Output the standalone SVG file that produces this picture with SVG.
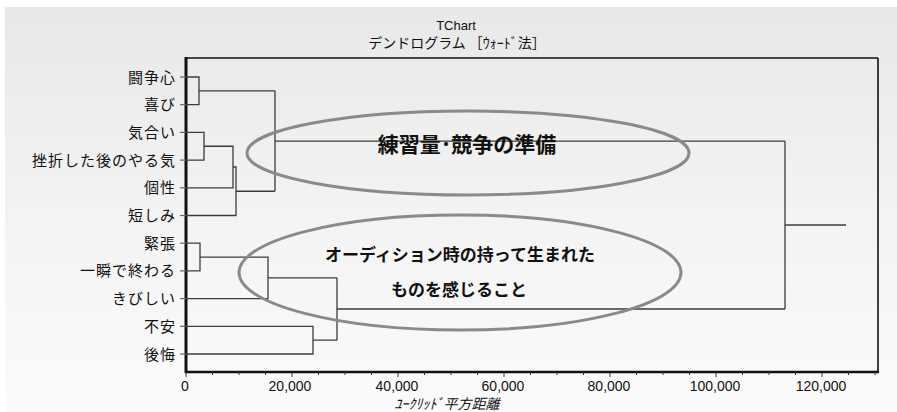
<svg xmlns="http://www.w3.org/2000/svg" width="897" height="412" viewBox="0 0 897 412">
<defs>
<linearGradient id="bg" x1="0" y1="0" x2="0" y2="1">
<stop offset="0" stop-color="#e8e8e8"/>
<stop offset="0.5" stop-color="#f3f3f3"/>
<stop offset="1" stop-color="#fbfbfb"/>
</linearGradient>
</defs>
<style>
.lbl{font-family:"Noto Sans CJK JP","Liberation Sans",sans-serif;font-size:15px;letter-spacing:1px;fill:#111;text-anchor:end}
.tick{font-family:"Liberation Sans",sans-serif;font-size:14px;fill:#111;text-anchor:middle}
.ttl{font-family:"Liberation Sans","Noto Sans CJK JP",sans-serif;font-size:13px;fill:#111;text-anchor:middle}
.big{font-family:"Noto Sans CJK JP",sans-serif;font-weight:bold;fill:#111;text-anchor:middle}
.dend{fill:none;stroke:#3c3c3c;stroke-width:1.3}
.lead{stroke:#666;stroke-width:1.2}
.ell{fill:none;stroke:#8a8a8a;stroke-width:3}
.frame{fill:none;stroke:#111}
</style>
<rect x="0" y="0" width="897" height="412" fill="#ffffff"/>
<rect x="5" y="7" width="892" height="405" fill="url(#bg)"/>
<g id="title">
<text class="ttl" x="456" y="30">TChart</text>
<text class="ttl" x="457" y="48" style="font-family:'Noto Sans CJK JP',sans-serif;font-size:14px">デンドログラム ［ｳｫｰﾄﾞ法］</text>
</g>
<g id="axes">
<line class="frame" x1="186" y1="58" x2="878" y2="58" stroke-width="1.6"/>
<line class="frame" x1="878" y1="58" x2="878" y2="372" stroke-width="1.6"/>
<line class="frame" x1="186" y1="57" x2="186" y2="373" stroke-width="3"/>
<line class="frame" x1="185" y1="372" x2="879" y2="372" stroke-width="2.4"/>
<path stroke="#333" stroke-width="1" d="M186 372v5M212.5 372v3M239 372v3M265.5 372v3M292 372v5M318.5 372v3M345 372v3M371.5 372v3M398 372v5M424.5 372v3M451 372v3M477.5 372v3M504 372v5M530.5 372v3M557 372v3M583.5 372v3M610 372v5M636.5 372v3M663 372v3M689.5 372v3M716 372v5M742.5 372v3M769 372v3M795.5 372v3M822 372v5M848.5 372v3M875 372v3"/>
<text class="tick" x="185" y="391">0</text>
<text class="tick" x="290" y="391">20,000</text>
<text class="tick" x="397" y="391">40,000</text>
<text class="tick" x="503" y="391">60,000</text>
<text class="tick" x="609" y="391">80,000</text>
<text class="tick" x="715" y="391">100,000</text>
<text class="tick" x="821" y="391">120,000</text>
<text class="ttl" x="447" y="409" style="font-family:'Noto Sans CJK JP',sans-serif;font-size:14px;font-style:italic">ﾕｰｸﾘｯﾄﾞ平方距離</text>
</g>
<g id="leaf-1"><line class="lead" x1="180" y1="77" x2="186" y2="77"/><text class="lbl" x="176" y="82.5">闘争心</text></g>
<g id="leaf-2"><line class="lead" x1="180" y1="104.7" x2="186" y2="104.7"/><text class="lbl" x="176" y="110.2">喜び</text></g>
<g id="leaf-3"><line class="lead" x1="180" y1="132.4" x2="186" y2="132.4"/><text class="lbl" x="176" y="137.9">気合い</text></g>
<g id="leaf-4"><line class="lead" x1="180" y1="160.1" x2="186" y2="160.1"/><text class="lbl" x="176" y="165.6">挫折した後のやる気</text></g>
<g id="leaf-5"><line class="lead" x1="180" y1="187.8" x2="186" y2="187.8"/><text class="lbl" x="176" y="193.3">個性</text></g>
<g id="leaf-6"><line class="lead" x1="180" y1="215.5" x2="186" y2="215.5"/><text class="lbl" x="176" y="221">短しみ</text></g>
<g id="leaf-7"><line class="lead" x1="180" y1="243.2" x2="186" y2="243.2"/><text class="lbl" x="176" y="248.7">緊張</text></g>
<g id="leaf-8"><line class="lead" x1="180" y1="270.9" x2="186" y2="270.9"/><text class="lbl" x="176" y="276.4">一瞬で終わる</text></g>
<g id="leaf-9"><line class="lead" x1="180" y1="298.6" x2="186" y2="298.6"/><text class="lbl" x="176" y="304.1">きびしい</text></g>
<g id="leaf-10"><line class="lead" x1="180" y1="326.3" x2="186" y2="326.3"/><text class="lbl" x="176" y="331.8">不安</text></g>
<g id="leaf-11"><line class="lead" x1="180" y1="354" x2="186" y2="354"/><text class="lbl" x="176" y="359.5">後悔</text></g>
<g id="connectors">
<path class="dend" d="M186 77H199V104.7H186M199 90.85H275"/>
<path class="dend" d="M186 132.4H204V160.1H186M204 146.25H233V187.8H186M233 167H236V215.5H186M236 191.25H275"/>
<path class="dend" d="M275 90.85V191.25M275 141.05H785"/>
<path class="dend" d="M186 243.2H200V270.9H186M200 257.05H268V298.6H186M268 277.8H337"/>
<path class="dend" d="M186 326.3H313V354H186M313 340.15H337"/>
<path class="dend" d="M337 277.8V340.15M337 309H785"/>
<path class="dend" d="M785 141.05V309M785 225H846"/>
</g>
<g id="cluster-1">
<ellipse class="ell" cx="468" cy="153" rx="221" ry="42"/>
<text class="big" x="467" y="152" font-size="21">練習量･競争の準備</text>
</g>
<g id="cluster-2">
<ellipse class="ell" cx="460" cy="272.5" rx="221" ry="57.5"/>
<text class="big" x="460" y="261" font-size="17">オーディション時の持って生まれた</text>
<text class="big" x="459" y="296" font-size="17">ものを感じること</text>
</g>
</svg>
